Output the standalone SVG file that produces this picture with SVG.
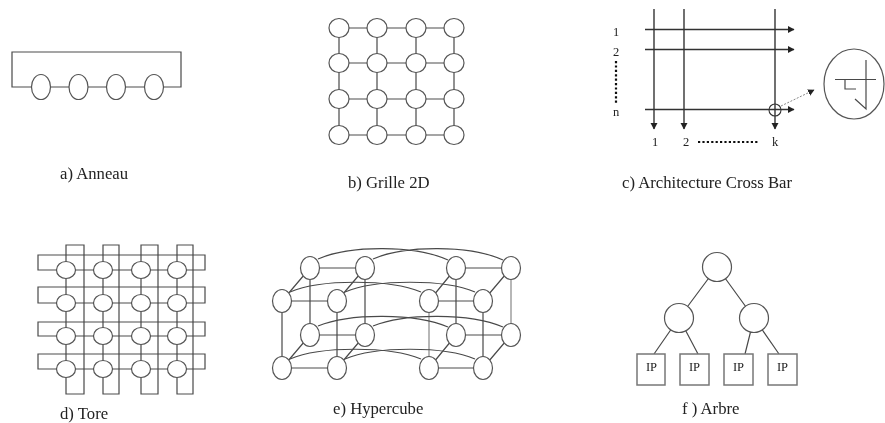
<svg xmlns="http://www.w3.org/2000/svg" width="885" height="423" viewBox="0 0 885 423">
<style>
.l{fill:none;stroke:#4a4a4a;stroke-width:1.2}
.g{fill:none;stroke:#888;stroke-width:1.2}
.a{fill:none;stroke:#333;stroke-width:1.4}
.n{fill:#fff;stroke:#555;stroke-width:1.2}
.b{fill:#fff;stroke:#777;stroke-width:1.500}
text{font-family:"Liberation Serif","Times New Roman",serif;fill:#222;font-size:16.7px}
.s{font-size:12.500px;text-anchor:middle}
.d{fill:none;stroke:#111;stroke-width:2.200;stroke-dasharray:2.200 2.200}
</style>
<defs>
<marker id="arr" markerUnits="userSpaceOnUse" markerWidth="8" markerHeight="8" refX="6" refY="3.500" orient="auto"><path d="M0 0L6.500 3.500L0 7z" fill="#222"/></marker>
<filter id="soft" x="-2%" y="-2%" width="104%" height="104%"><feGaussianBlur stdDeviation="0.35"/></filter>
</defs>
<rect width="885" height="423" fill="#fff"/>
<g filter="url(#soft)">
<g id="connectors">
<!-- a -->
<path class="l" d="M32 87H12V52H181V87H163M51 87H69M88 87H107M126 87H145"/>
<!-- b -->
<path class="l" d="M339 28H454M339 63H454M339 99H454M339 135H454M339 28V135M377 28V135M416 28V135M454 28V135"/>
<!-- c -->
<path class="a" marker-end="url(#arr)" d="M645 29.500H794"/>
<path class="a" marker-end="url(#arr)" d="M645 49.500H794"/>
<path class="a" marker-end="url(#arr)" d="M645 109.500H794"/>
<path class="a" marker-end="url(#arr)" d="M654 9V129"/>
<path class="a" marker-end="url(#arr)" d="M684 9V129"/>
<path class="a" marker-end="url(#arr)" d="M775 9V129"/>
<path fill="none" stroke="#888" stroke-width="1" stroke-dasharray="2 1.500" marker-end="url(#arr)" d="M781 106L814 90"/>
<path class="d" d="M616 61V104"/>
<path class="d" d="M698 142H759"/>
<!-- d -->
<path class="l" d="M38 255H205V270H38ZM38 287H205V303H38ZM38 322H205V336H38ZM38 354H205V369H38Z"/>
<path class="l" d="M66 245H84V394H66ZM103 245H119V394H103ZM141 245H158V394H141ZM177 245H193V394H177Z"/>
<!-- e -->
<path class="l" d="M310 268H365M456 268H511M282 301H337M429 301H483M310 335H365M456 335H511M282 368H337M429 368H483"/>
<path class="l" d="M310 268L282 301M365 268L337 301M456 268L429 301M511 268L483 301M310 335L282 368M365 335L337 368M456 335L429 368M511 335L483 368"/>
<path class="l" d="M310 268V335M365 268V335M456 268V335M282 301V368M337 301V368M483 301V368"/>
<path class="g" d="M511 268V335M429 301V368"/>
<path class="l" d="M318 259C350 245 415 245 448 260M373 259C405 245 470 245 503 260M290 292C320 279 390 279 421 292M345 292C375 279 445 279 475 292M318 326C350 313 415 313 448 327M373 326C405 313 470 313 503 327M290 359C320 346 390 346 421 359M345 359C375 346 445 346 475 359"/>
<!-- f -->
<path class="l" d="M717 267L679 318M717 267L754 318M679 318L654 354M679 318L698 354M754 318L745 354M754 318L779 354"/>
</g>
<g id="anneau">
<ellipse class="n" cx="41" cy="87" rx="9.500" ry="12.500"/><ellipse class="n" cx="78.500" cy="87" rx="9.500" ry="12.500"/><ellipse class="n" cx="116" cy="87" rx="9.500" ry="12.500"/><ellipse class="n" cx="154" cy="87" rx="9.500" ry="12.500"/>
<text x="60" y="179">a) Anneau</text>
</g>
<g id="grille">
<ellipse class="n" cx="339" cy="28" rx="10" ry="9.500"/><ellipse class="n" cx="377" cy="28" rx="10" ry="9.500"/><ellipse class="n" cx="416" cy="28" rx="10" ry="9.500"/><ellipse class="n" cx="454" cy="28" rx="10" ry="9.500"/>
<ellipse class="n" cx="339" cy="63" rx="10" ry="9.500"/><ellipse class="n" cx="377" cy="63" rx="10" ry="9.500"/><ellipse class="n" cx="416" cy="63" rx="10" ry="9.500"/><ellipse class="n" cx="454" cy="63" rx="10" ry="9.500"/>
<ellipse class="n" cx="339" cy="99" rx="10" ry="9.500"/><ellipse class="n" cx="377" cy="99" rx="10" ry="9.500"/><ellipse class="n" cx="416" cy="99" rx="10" ry="9.500"/><ellipse class="n" cx="454" cy="99" rx="10" ry="9.500"/>
<ellipse class="n" cx="339" cy="135" rx="10" ry="9.500"/><ellipse class="n" cx="377" cy="135" rx="10" ry="9.500"/><ellipse class="n" cx="416" cy="135" rx="10" ry="9.500"/><ellipse class="n" cx="454" cy="135" rx="10" ry="9.500"/>
<text x="348" y="188">b) Grille 2D</text>
</g>
<g id="crossbar">
<circle cx="775" cy="110" r="6" fill="none" stroke="#333" stroke-width="1.100"/>
<ellipse class="n" cx="854" cy="84" rx="30" ry="35"/>
<path class="l" d="M835 79.500H876M866 60V109L855 99M845 79.500V89H856"/>
<text class="s" x="616" y="36">1</text><text class="s" x="616" y="56">2</text><text class="s" x="616" y="116">n</text>
<text class="s" x="655" y="146">1</text><text class="s" x="686" y="146">2</text><text class="s" x="775" y="146">k</text>
<text x="622" y="188">c) Architecture Cross Bar</text>
</g>
<g id="tore">
<ellipse class="n" cx="66" cy="270" rx="9.500" ry="8.500"/><ellipse class="n" cx="103" cy="270" rx="9.500" ry="8.500"/><ellipse class="n" cx="141" cy="270" rx="9.500" ry="8.500"/><ellipse class="n" cx="177" cy="270" rx="9.500" ry="8.500"/>
<ellipse class="n" cx="66" cy="303" rx="9.500" ry="8.500"/><ellipse class="n" cx="103" cy="303" rx="9.500" ry="8.500"/><ellipse class="n" cx="141" cy="303" rx="9.500" ry="8.500"/><ellipse class="n" cx="177" cy="303" rx="9.500" ry="8.500"/>
<ellipse class="n" cx="66" cy="336" rx="9.500" ry="8.500"/><ellipse class="n" cx="103" cy="336" rx="9.500" ry="8.500"/><ellipse class="n" cx="141" cy="336" rx="9.500" ry="8.500"/><ellipse class="n" cx="177" cy="336" rx="9.500" ry="8.500"/>
<ellipse class="n" cx="66" cy="369" rx="9.500" ry="8.500"/><ellipse class="n" cx="103" cy="369" rx="9.500" ry="8.500"/><ellipse class="n" cx="141" cy="369" rx="9.500" ry="8.500"/><ellipse class="n" cx="177" cy="369" rx="9.500" ry="8.500"/>
<text x="60" y="418.500">d) Tore</text>
</g>
<g id="hypercube">
<ellipse class="n" cx="310" cy="268" rx="9.500" ry="11.500"/><ellipse class="n" cx="365" cy="268" rx="9.500" ry="11.500"/><ellipse class="n" cx="456" cy="268" rx="9.500" ry="11.500"/><ellipse class="n" cx="511" cy="268" rx="9.500" ry="11.500"/>
<ellipse class="n" cx="282" cy="301" rx="9.500" ry="11.500"/><ellipse class="n" cx="337" cy="301" rx="9.500" ry="11.500"/><ellipse class="n" cx="429" cy="301" rx="9.500" ry="11.500"/><ellipse class="n" cx="483" cy="301" rx="9.500" ry="11.500"/>
<ellipse class="n" cx="310" cy="335" rx="9.500" ry="11.500"/><ellipse class="n" cx="365" cy="335" rx="9.500" ry="11.500"/><ellipse class="n" cx="456" cy="335" rx="9.500" ry="11.500"/><ellipse class="n" cx="511" cy="335" rx="9.500" ry="11.500"/>
<ellipse class="n" cx="282" cy="368" rx="9.500" ry="11.500"/><ellipse class="n" cx="337" cy="368" rx="9.500" ry="11.500"/><ellipse class="n" cx="429" cy="368" rx="9.500" ry="11.500"/><ellipse class="n" cx="483" cy="368" rx="9.500" ry="11.500"/>
<text x="333" y="414">e) Hypercube</text>
</g>
<g id="arbre">
<circle class="n" cx="717" cy="267" r="14.500"/><circle class="n" cx="679" cy="318" r="14.500"/><circle class="n" cx="754" cy="318" r="14.500"/>
<rect class="b" x="637" y="354" width="28" height="31"/><rect class="b" x="680" y="354" width="29" height="31"/><rect class="b" x="724" y="354" width="29" height="31"/><rect class="b" x="768" y="354" width="29" height="31"/>
<text class="s" x="651.500" y="371">IP</text><text class="s" x="694.500" y="371">IP</text><text class="s" x="738.500" y="371">IP</text><text class="s" x="782.500" y="371">IP</text>
<text x="682" y="414">f ) Arbre</text>
</g>
</g>
</svg>
